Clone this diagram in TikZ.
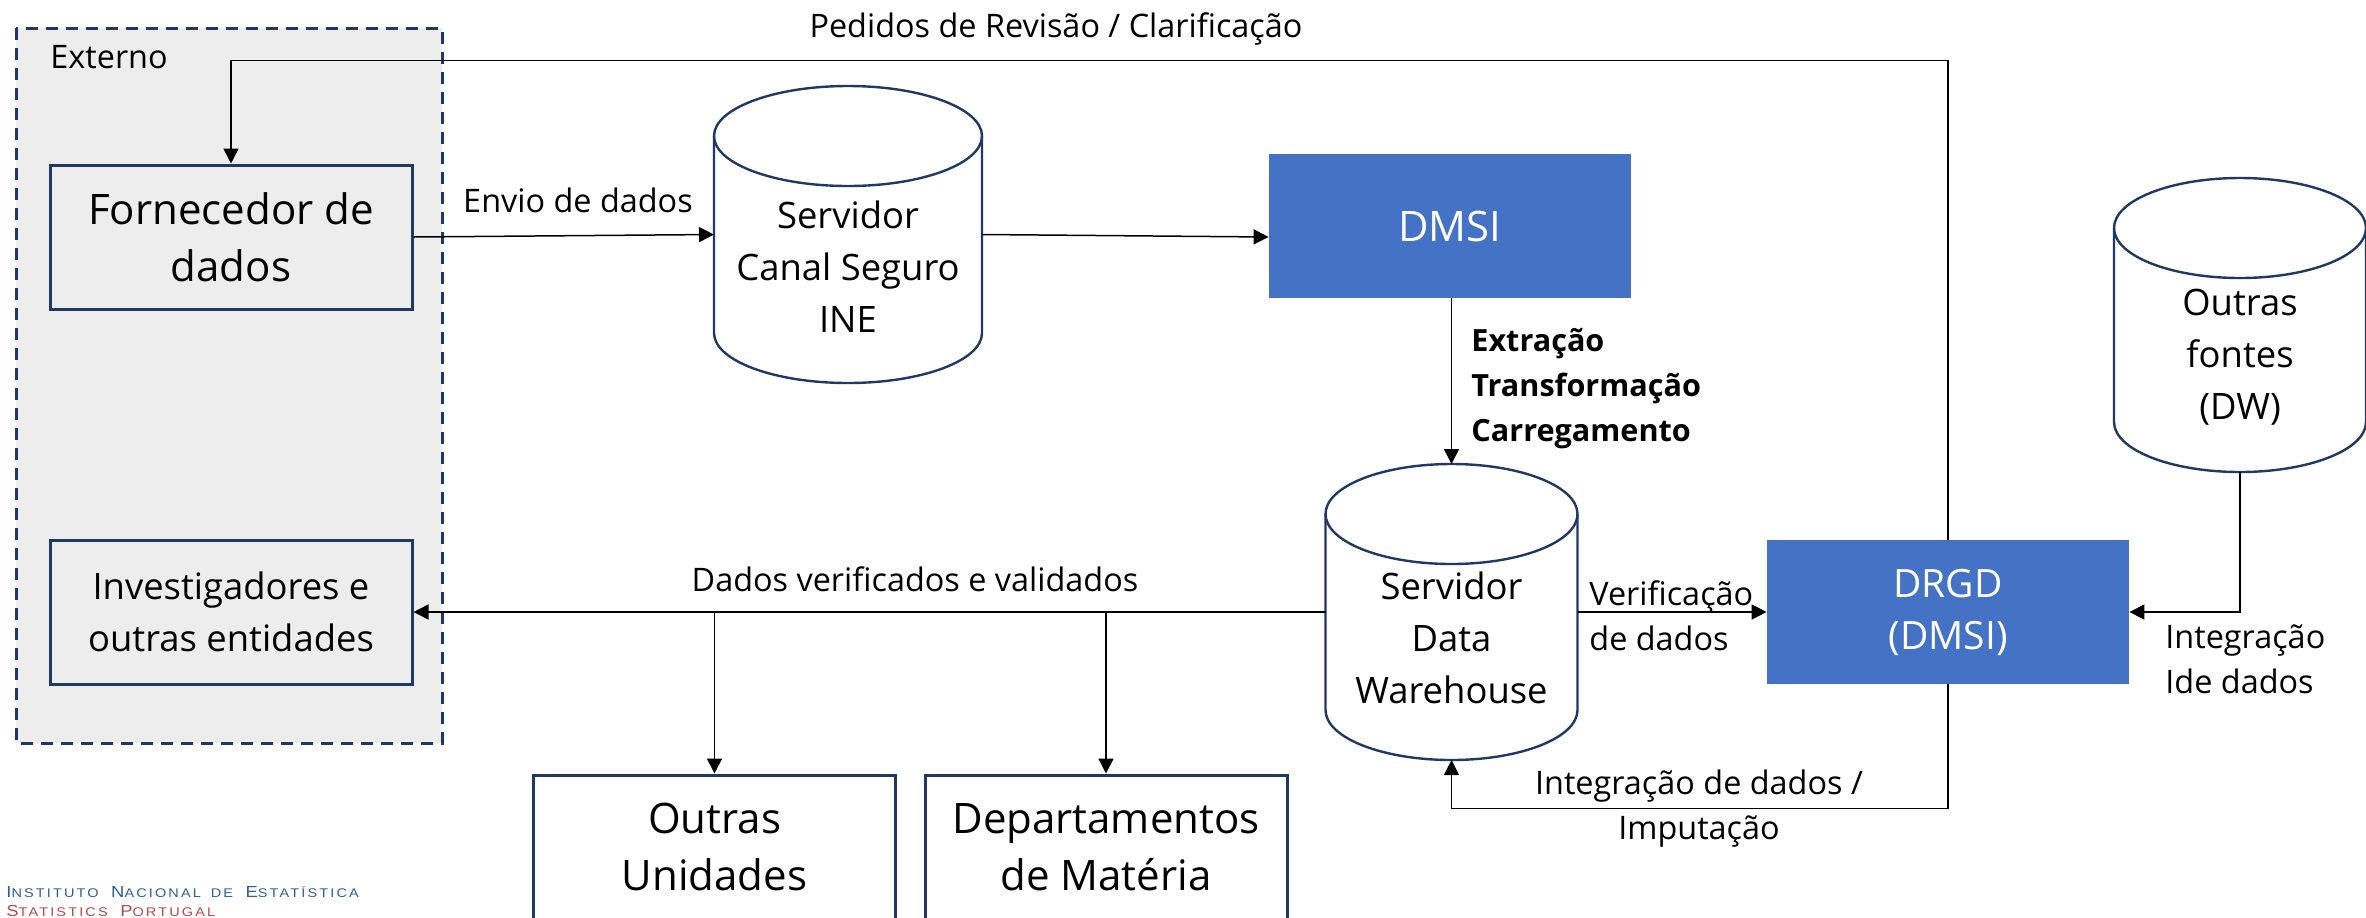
\documentclass[tikz,border=0pt]{standalone}
\usepackage{fontspec}
\setmainfont{Open Sans}
\newfontfamily\logofont[FakeStretch=1.15,LetterSpace=17,WordSpace=1.6]{Liberation Sans}
\usetikzlibrary{arrows.meta,calc}

\definecolor{navy}{HTML}{1F3864}
\definecolor{azul}{HTML}{4472C4}
\definecolor{cinza}{HTML}{EDEDED}
\definecolor{logoblue}{HTML}{2F5F8F}
\definecolor{logored}{HTML}{B5484F}

\newcommand{\bigtxt}{\fontsize{21}{28.5}\selectfont}
\newcommand{\midtxt}{\fontsize{18.2}{26}\selectfont}
\newcommand{\smalltxt}{\fontsize{16.2}{22.5}\selectfont}
\newcommand{\logocaps}{\fontsize{8}{9}\selectfont}
\newcommand{\logosmall}{\fontsize{6.3}{9}\selectfont}
% outline of a cylinder around a node: name, half width in pt
\newcommand{\dbdraw}[2]{%
    \draw[dbline] ($(#1.north)+(0,50)$) ellipse[x radius=#2pt, y radius=25pt];
    \draw[dbline] ($(#1.north west)+(0,50)$) -- ($(#1.south west)+(0,-50)$)
        arc[start angle=180, end angle=360, x radius=#2pt, y radius=25pt] -- ($(#1.north east)+(0,50)$);
}

\tikzset{
    box/.style={draw=navy, line width=1.5pt, align=center, minimum width=181pt, minimum height=72pt, inner sep=0pt},
    bluebox/.style={fill=azul, text=white, align=center, minimum width=181pt, minimum height=72pt, inner sep=0pt},
    db/.style={inner sep=0pt, outer sep=0pt},
    dbline/.style={draw=navy, line width=1.2pt},
    dbtext/.style={font=\midtxt, align=center, inner sep=0pt},
    conn/.style={draw=black, line width=0.75pt},
    arrow/.style={conn, -{Triangle[length=7.5pt, width=7.5pt]}},
    txt/.style={font=\smalltxt, align=center, inner sep=0pt}
}

\begin{document}
\begin{tikzpicture}[x=0.5pt, y=-0.5pt]
    \useasboundingbox (0,0) rectangle (2366,917);

    % Externo area
    \fill[cinza] (16,28) rectangle (442,743);
    \draw[navy, line width=1.5pt, dash pattern=on 6pt off 4pt] (16,28) rectangle (442,743);
    \node[txt, anchor=west] (externo) at (50,57) {Externo};

    % Boxes
    \node[box, font=\bigtxt] (forn) at (231,237) {Fornecedor de\\dados};
    \node[box, font=\midtxt] (inv) at (231,612) {Investigadores e\\outras entidades};
    \node[bluebox, font=\bigtxt] (dmsi) at (1450,226) {DMSI};
    \node[bluebox, font=\fontsize{19.5}{26}\selectfont] (drgd) at (1948,612) {DRGD\\(DMSI)};

    % Boxes cut by the bottom edge
    \begin{scope}
        \clip (0,0) rectangle (2366,917);
        \node[box, font=\bigtxt] (unid) at (714.5,847) {Outras\\Unidades};
        \node[box, font=\bigtxt] (dept) at (1106,847) {Departamentos\\de Matéria};
    \end{scope}

    % Cylinders
    \node[db, minimum width=134pt, minimum height=148.5pt] (canal) at (848,234.5) {};
    \node[db, minimum width=126pt, minimum height=148pt] (dw) at (1451.5,612) {};
    \node[db, minimum width=126pt, minimum height=147pt] (fontes) at (2240,325) {};
    \dbdraw{canal}{67}
    \dbdraw{dw}{63}
    \dbdraw{fontes}{63}
    \node[dbtext] (canaltxt) at ($(canal.center)+(0,32)$) {Servidor\\Canal Seguro\\INE};
    \node[dbtext] (dwtxt) at ($(dw.center)+(0,26)$) {Servidor\\Data\\Warehouse};
    \node[dbtext] (fontestxt) at ($(fontes.center)+(0,32)$) {Outras\\fontes\\(DW)};

    % Connectors
    \draw[arrow] (forn.east) -- (canal.west);
    \draw[arrow] (canal.east) -- (dmsi.west |- forn.east);
    \draw[arrow] (dmsi.south -| dw.north) -- (dw.north);
    \draw[arrow] (dw.east) -- (drgd.west);
    \draw[arrow] (dw.west) -- (inv.east);
    \draw[arrow] (fontes.south) |- (drgd.east);

    \coordinate (branchunid) at (unid.north |- dw.west);
    \coordinate (branchdept) at (dept.north |- dw.west);
    \draw[arrow] (branchunid) -- (unid.north);
    \draw[arrow] (branchdept) -- (dept.north);

    \coordinate (topcorner) at ($(drgd.north)+(0,-479)$);
    \coordinate (botcorner) at ($(drgd.south)+(0,124)$);
    \draw[arrow] (drgd.north) -- (topcorner) -| (forn.north);
    \draw[arrow] (drgd.south) -- (botcorner) -| (dw.south);

    % Labels
    \node[txt] (revisao) at (1056,29) {Pedidos de Revisão / Clarificação};
    \node[txt] (envio) at (578,200) {Envio de dados};
    \node[txt, anchor=west, font=\fontsize{15.3}{22.5}\selectfont\bfseries, align=left] (etl) at (1471,389) {Extração\\Transformação\\Carregamento};
    \node[txt] (validados) at (915,579) {Dados verificados e validados};
    \node[txt, anchor=west, align=left] (verif) at (1589,616) {Verificação\\de dados};
    \node[txt, anchor=west, align=left] (integ) at (2165,659) {Integração\\Ide dados};
    \node[txt] (imput) at (1699,809) {Integração de dados /\\Imputação};

    % Logo
    \node[anchor=west, inner sep=0pt, text=logoblue, font=\logofont\logocaps] (ine) at (6,892) {I{\logosmall NSTITUTO} N{\logosmall ACIONAL DE} E{\logosmall STATÍSTICA}};
    \node[anchor=west, inner sep=0pt, text=logored, font=\logofont\logocaps] (sp) at (6,911) {S{\logosmall TATISTICS} P{\logosmall ORTUGAL}};
\end{tikzpicture}
\end{document}
